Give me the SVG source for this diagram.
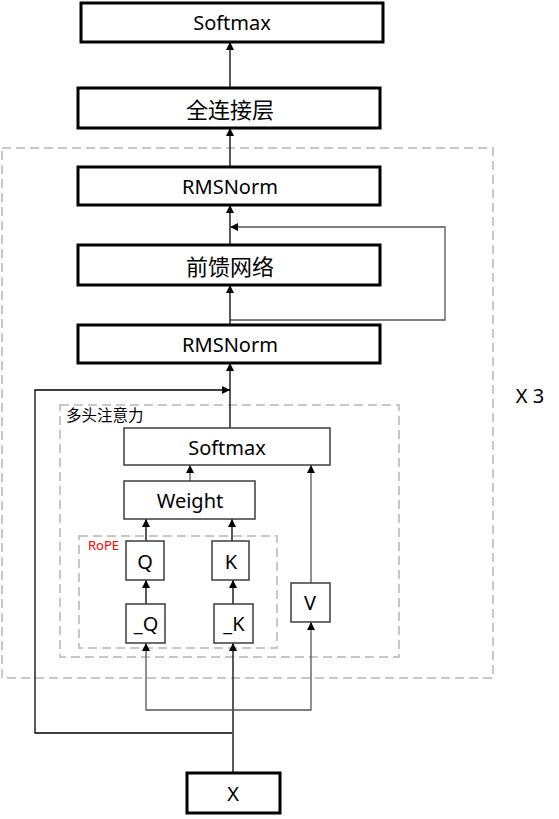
<svg xmlns="http://www.w3.org/2000/svg" width="559" height="819" viewBox="0 0 559 819">
<style>
.thick{fill:#fff;stroke:#000;stroke-width:3}
.thin{fill:#fff;stroke:#3c3c3c;stroke-width:1.5}
.dash{fill:none;stroke:#c8c8c8;stroke-width:2;stroke-dasharray:9,5}
.t{font-family:"Noto Sans","Noto Sans CJK SC",sans-serif;font-size:20px;fill:#000;text-anchor:middle;dominant-baseline:central}
.cn{font-family:"Noto Sans CJK SC","Noto Sans",sans-serif;font-size:22px;fill:#000;text-anchor:middle;dominant-baseline:central}
.c{fill:none;stroke:#000;stroke-width:1.3}
.g{fill:none;stroke:#555;stroke-width:1.3}
</style>
<defs>
<marker id="a" viewBox="0 0 10 10" refX="10" refY="5" markerWidth="8" markerHeight="8" markerUnits="userSpaceOnUse" orient="auto"><path d="M0,0L10,5L0,10z" fill="#000"/></marker>
</defs>
<g id="frames">
<rect class="dash" x="2" y="148" width="491" height="530"/>
<rect class="dash" x="60" y="405" width="339" height="252"/>
<rect class="dash" x="79" y="536" width="198" height="112"/>
<text x="66" y="414" font-family="Noto Sans CJK SC,sans-serif" font-size="15.5" dominant-baseline="central">多头注意力</text>
<text x="88" y="545" font-family="Noto Sans,sans-serif" font-size="13" fill="#ff0000" dominant-baseline="central">RoPE</text>
<text x="530" y="395" font-family="Noto Sans,sans-serif" font-size="20" text-anchor="middle" dominant-baseline="central">X 3</text>
</g>
<g id="connectors">
<path class="c" d="M230,88V42" marker-end="url(#a)"/>
<path class="c" d="M230,167V128" marker-end="url(#a)"/>
<path class="c" d="M230,245V205" marker-end="url(#a)"/>
<path class="g" d="M230,320H445V227H230" marker-end="url(#a)"/>
<path class="c" d="M230,325V285" marker-end="url(#a)"/>
<path class="c" d="M230,428V363" marker-end="url(#a)"/>
<path class="c" d="M232,733H35V390H230" marker-end="url(#a)"/>
<path class="g" d="M190,481V465" marker-end="url(#a)"/>
<path class="g" d="M311,583V465" marker-end="url(#a)"/>
<path class="c" d="M146,541V519" marker-end="url(#a)"/>
<path class="c" d="M232,541V519" marker-end="url(#a)"/>
<path class="c" d="M146,604V580" marker-end="url(#a)"/>
<path class="c" d="M233,604V580" marker-end="url(#a)"/>
<path class="c" d="M233,773V643" marker-end="url(#a)"/>
<path class="g" d="M233,710H146V643" marker-end="url(#a)"/>
<path class="g" d="M233,710H311V622" marker-end="url(#a)"/>
</g>
<g id="softmax-top"><rect class="thick" x="81" y="3" width="302" height="39"/><text class="t" x="232" y="22">Softmax</text></g>
<g id="fc"><rect class="thick" x="78" y="88" width="302" height="40"/><text class="cn" x="230" y="108">全连接层</text></g>
<g id="rmsnorm-top"><rect class="thick" x="78" y="167" width="302" height="38"/><text class="t" x="230" y="186">RMSNorm</text></g>
<g id="ffn"><rect class="thick" x="78" y="245" width="302" height="40"/><text class="cn" x="230" y="265">前馈网络</text></g>
<g id="rmsnorm-bottom"><rect class="thick" x="78" y="325" width="302" height="38"/><text class="t" x="230" y="344">RMSNorm</text></g>
<g id="softmax-attn"><rect class="thin" x="124" y="428" width="206" height="37"/><text class="t" x="227" y="447">Softmax</text></g>
<g id="weight"><rect class="thin" x="124" y="481" width="131" height="38"/><text class="t" x="190" y="500">Weight</text></g>
<g id="q"><rect class="thin" x="126" y="541" width="38" height="39"/><text class="t" x="145" y="561">Q</text></g>
<g id="k"><rect class="thin" x="212" y="541" width="37" height="39"/><text class="t" x="231" y="561">K</text></g>
<g id="q0"><rect class="thin" x="126" y="604" width="39" height="39"/><text class="t" x="146" y="623">_Q</text></g>
<g id="k0"><rect class="thin" x="214" y="604" width="39" height="39"/><text class="t" x="234" y="623">_K</text></g>
<g id="v"><rect class="thin" x="291" y="583" width="39" height="39"/><text class="t" x="310" y="602">V</text></g>
<g id="x"><rect class="thick" x="187" y="773" width="93" height="40"/><text class="t" x="233" y="793">X</text></g>
</svg>
